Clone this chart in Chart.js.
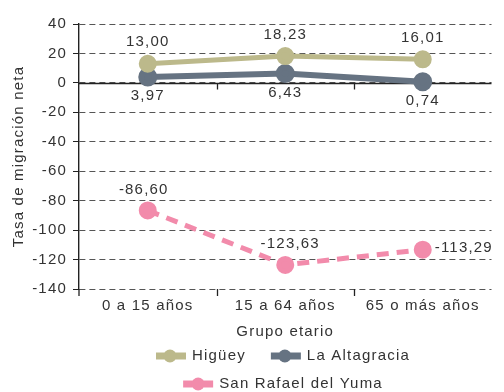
<!DOCTYPE html>
<html>
<head>
<meta charset="utf-8">
<script src="https://cdn.jsdelivr.net/npm/chart.js@4"></script>
<style>
  html, body { margin: 0; padding: 0; background: #fff; }
  #c { display: block; }
</style>
</head>
<body>
<canvas id="c" width="504" height="392"></canvas>
<script>
// Tasa de migración neta por grupo etario
const grupos = ['0 a 15 años', '15 a 64 años', '65 o más años'];
const higuey = [13.00, 18.23, 16.01];
const altagracia = [3.97, 6.43, 0.74];
const sanRafael = [-86.60, -123.63, -113.29];
const yMin = -140, yMax = 40, yPaso = 20;

const FUENTE = '"Liberation Sans", Arial, sans-serif';
const TXT = '#333';
const fmt = v => v.toFixed(2).replace('.', ',');

// rótulos de valores, línea del cero, marcas y leyenda
const rotulos = {
  id: 'rotulos',
  beforeDraw(chart) { chart.ctx.letterSpacing = '1.2px'; },
  beforeDatasetsDraw(chart) {
    const { ctx, chartArea: a, scales: { x, y } } = chart;
    const y0 = Math.round(y.getPixelForValue(0)) + 0.5;
    ctx.save();
    ctx.strokeStyle = '#222'; ctx.lineWidth = 1.3;
    ctx.beginPath();
    ctx.moveTo(a.left, y0); ctx.lineTo(a.right, y0);
    [0.5, 1.5].forEach(v => {
      const px = Math.round(x.getPixelForValue(v)) + 0.5;
      ctx.moveTo(px, y0); ctx.lineTo(px, y0 + 6);
      ctx.moveTo(px, a.bottom); ctx.lineTo(px, a.bottom + 7);
    });
    ctx.moveTo(a.left, a.bottom); ctx.lineTo(a.left, a.bottom + 7);
    ctx.stroke();
    ctx.restore();
  },
  afterDatasetsDraw(chart) {
    const ctx = chart.ctx;
    ctx.save();
    ctx.font = '15px ' + FUENTE;
    ctx.fillStyle = TXT;
    ctx.textBaseline = 'middle';
    chart.data.datasets.forEach((ds, i) => {
      chart.getDatasetMeta(i).data.forEach((pt, j) => {
        let x = pt.x, y = pt.y, al = 'center';
        if (ds.rotulo === 'abajo') y += 19;
        else if (ds.rotulo === 'arriba') y -= 21.5;
        else if (j === 2) { x += 12; y -= 2; al = 'left'; }
        else { y -= 21; x += j === 0 ? -4 : 5; }
        ctx.textAlign = al;
        ctx.fillText(fmt(ds.data[j]), x, y);
      });
    });
    ctx.restore();
  },
  afterDraw(chart) {
    const ctx = chart.ctx;
    const ds = chart.data.datasets;
    const filas = [[0, 1], [2]];
    const filaY = [356, 384];
    const cx = 283;
    ctx.save();
    ctx.font = '15px ' + FUENTE;
    ctx.textBaseline = 'middle';
    ctx.textAlign = 'left';
    filas.forEach((fila, f) => {
      const anchos = fila.map(i => 30 + 6 + ctx.measureText(ds[i].label).width);
      let x = cx - (anchos.reduce((s, w) => s + w, 0) + 25 * (fila.length - 1)) / 2;
      const y = filaY[f];
      fila.forEach((i, k) => {
        const d = ds[i];
        ctx.strokeStyle = d.borderColor;
        ctx.lineWidth = 7;
        ctx.setLineDash(d.borderDash || []);
        ctx.beginPath(); ctx.moveTo(x, y); ctx.lineTo(x + 30, y); ctx.stroke();
        ctx.setLineDash([]);
        ctx.fillStyle = d.borderColor;
        ctx.beginPath(); ctx.arc(x + (d.borderDash ? 15 : 14), y, 6.5, 0, Math.PI * 2); ctx.fill();
        ctx.fillStyle = TXT;
        ctx.fillText(d.label, x + 36, y);
        x += anchos[k] + 25;
      });
    });
    ctx.restore();
  }
};

new Chart(document.getElementById('c'), {
  type: 'line',
  data: {
    labels: grupos,
    datasets: [
      { label: 'Higüey', data: higuey, borderColor: '#bcb98b', backgroundColor: '#bcb98b',
        borderWidth: 5, rotulo: 'arriba' },
      { label: 'La Altagracia', data: altagracia, borderColor: '#667382', backgroundColor: '#667382',
        borderWidth: 6, rotulo: 'abajo' },
      { label: 'San Rafael del Yuma', data: sanRafael, borderColor: '#f28bab', backgroundColor: '#f28bab',
        borderWidth: 5, borderDash: [12, 8] },
    ],
  },
  options: {
    responsive: false, animation: false,
    layout: { padding: { left: 0, right: 0, top: 24, bottom: 53 } },
    elements: {
      point: { radius: 6.5, hoverRadius: 6.5, borderWidth: 0 },
      line: { tension: 0 },
    },
    plugins: { legend: { display: false }, tooltip: { enabled: false } },
    scales: {
      x: {
        offset: true,
        grid: { display: false, drawTicks: false, offset: true },
        border: { display: false },
        ticks: { color: TXT, font: { size: 15, family: FUENTE }, padding: 8, maxRotation: 0 },
        title: { display: true, text: 'Grupo etario', color: TXT, font: { size: 15, family: FUENTE, lineHeight: 1 }, padding: 0 },
        afterFit: s => { s.height = 50; },
      },
      y: {
        min: yMin, max: yMax,
        ticks: { stepSize: yPaso, color: TXT, font: { size: 15, family: FUENTE }, padding: 6 },
        grid: { color: '#555', lineWidth: 1, tickColor: '#222', tickLength: 6 },
        border: { display: true, color: '#222', width: 1.4, dash: [6, 4] },
        title: { display: true, text: 'Tasa de migración neta', color: TXT, font: { size: 15, family: FUENTE, lineHeight: 1 }, padding: { top: 11, bottom: 0 } },
        afterFit: s => { s.width = 79; },
      },
    },
  },
  plugins: [rotulos],
});
</script>
</body>
</html>
